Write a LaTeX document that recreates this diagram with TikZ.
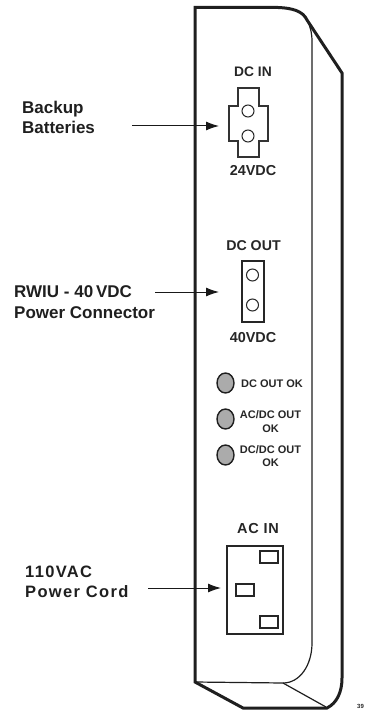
\documentclass[tikz,border=0pt]{standalone}
\usepackage{fontspec}
\setmainfont{Liberation Sans}
\usetikzlibrary{arrows.meta,shapes.geometric}
\tikzset{
  lbl/.style={font=\bfseries\fontsize{#1}{#1}\selectfont,inner sep=0pt,text=black!85},
  mainlabel/.style={font=\bfseries\fontsize{17}{20.5}\selectfont,inner sep=0pt,align=left,anchor=west,text=black!88},
  ledtext/.style={font=\bfseries\fontsize{11}{13.5}\selectfont,inner sep=0pt,align=center,text=black!85},
  outline/.style={line width=3pt,draw=black!88,line join=miter},
  thin line/.style={line width=1.2pt,draw=black!88},
  part/.style={line width=1.2pt,draw=black!80},
  box/.style={draw=black!85,line width=1.2pt,inner sep=0pt},
  slot/.style={box,minimum width=18pt,minimum height=12pt},
  pin/.style={circle,draw=black!85,line width=1pt,minimum size=12pt,inner sep=0pt},
  led/.style={ellipse,draw=black!88,line width=1.4pt,fill=black!33,minimum width=17pt,minimum height=20pt,inner sep=0pt},
  pointer/.style={line width=1pt,draw=black!90,-{Latex[length=13pt,width=9pt]}},
}
\begin{document}
\begin{tikzpicture}[x=1pt,y=-1pt]
\useasboundingbox (0,0) rectangle (367,711);
% inner lines
\draw[thin line] (307,20) .. controls (311,28) and (312,34) .. (312,42) -- (312,643) .. controls (312,665) and (300,683) .. (283,683) -- (195,682);
\draw[thin line] (283,683) -- (326,707);
% outer body
\draw[outline] (195,682) -- (195,7.5) -- (278,7.5) .. controls (292,8) and (303,11) .. (307,20) -- (342,73) -- (342,678) .. controls (342,692) and (337,703) .. (327,708) -- (243,708) -- cycle;
% DC IN
\node[lbl=13.8] (dcin) at (253,72) {DC IN};
\draw[part] (238,88) -- (259,88) -- (259,106) -- (268,106) -- (268,141) -- (259,141) -- (259,157) -- (238,157) -- (238,141) -- (229,141) -- (229,106) -- (238,106) -- cycle;
\coordinate (dcinport) at (219,126);
\node[pin] (p1) at (248,111) {};
\node[pin] (p2) at (248,136) {};
\node[lbl=14.4] (v24) at (253,171) {24VDC};
% DC OUT
\node[lbl=14.2] (dcout) at (253.5,246) {DC OUT};
\node[box,minimum width=22pt,minimum height=61pt] (outconn) at (253,291.5) {};
\node[pin] (p3) at (252.5,275) {};
\node[pin] (p4) at (252.5,305) {};
\node[lbl=14.4] (v40) at (253,338) {40VDC};
% LEDs
\node[led] (l1) at (225.5,383) {};
\node[led] (l2) at (225.5,419) {};
\node[led] (l3) at (225.5,455) {};
\node[ledtext,anchor=west] (t1) at (241,384) {DC OUT OK};
\node[ledtext] (t2) at (270.5,421.5) {AC/DC OUT\\OK};
\node[ledtext] (t3) at (270.5,456) {DC/DC OUT\\OK};
% AC IN
\node[lbl=14.5,font=\bfseries\fontsize{14.5}{14.5}\selectfont\addfontfeature{LetterSpace=5}] (acin) at (258,529) {AC IN};
\node[box,minimum width=56pt,minimum height=88pt] (acconn) at (255,590) {};
\node[slot] (s1) at (269,557) {};
\node[slot] (s2) at (245,590) {};
\node[slot] (s3) at (269,622) {};
% labels
\node[mainlabel] (backup) at (22,117.5) {Backup\\Batteries};
\node[mainlabel] (rwiu) at (14,302) {RWIU - 40\,VDC\\Power Connector};
\node[mainlabel,font=\bfseries\fontsize{16.5}{20}\selectfont\addfontfeature{LetterSpace=8}] (cord) at (25,581.5) {110VAC\\Power Cord};
% arrows
\coordinate (a1) at (132,126);
\coordinate (a2) at (155,292);
\coordinate (a3) at (148,588);
\coordinate (outport) at (219,292);
\coordinate (acport) at (221,588);
\draw[pointer] (a1) -- (dcinport);
\draw[pointer] (a2) -- (outport);
\draw[pointer] (a3) -- (acport);
\node[font=\bfseries\fontsize{6}{6}\selectfont,inner sep=0pt,anchor=west,text=black!85] (fig) at (357,706) {39};
\end{tikzpicture}
\end{document}
